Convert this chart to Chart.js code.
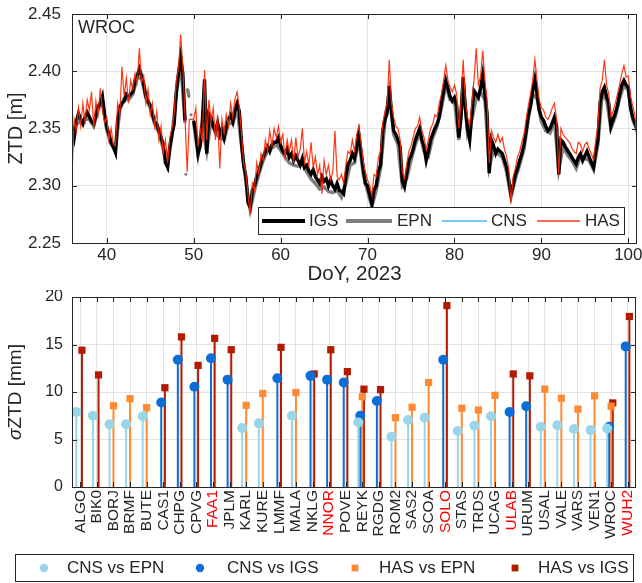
<!DOCTYPE html>
<html>
<head>
<meta charset="utf-8">
<script src="https://cdn.jsdelivr.net/npm/chart.js@4.4.1/dist/chart.umd.min.js"></script>
<style>
  body { margin: 0; background: #fff; }
  canvas { position: absolute; left: 0; }
  #ztdChart { top: 0; }
  #sigmaChart { top: 290px; }
</style>
</head>
<body>
<canvas id="ztdChart" width="642" height="290"></canvas>
<canvas id="sigmaChart" width="642" height="293"></canvas>
<script>
// ---- top panel: ZTD time series at WROC ----
const doy = [
  36, 36.25, 36.5, 36.75, 37, 37.25, 37.5, 37.75, 38, 38.25, 38.5, 38.75, 39, 39.25, 39.5, 39.75,
  40, 40.25, 40.5, 40.75, 41, 41.25, 41.5, 41.75, 42, 42.25, 42.5, 42.75, 43, 43.25, 43.5, 43.75,
  44, 44.25, 44.5, 44.75, 45, 45.25, 45.5, 45.75, 46, 46.25, 46.5, 46.75, 47, 47.25, 47.5, 47.75,
  48, 48.25, 48.5, 48.75, 49, 49.25, 49.5, 49.75, 50, 50.25, 50.5, 50.75, 51, 51.25, 51.5, 51.75,
  52, 52.25, 52.5, 52.75, 53, 53.25, 53.5, 53.75, 54, 54.25, 54.5, 54.75, 55, 55.25, 55.5, 55.75,
  56, 56.25, 56.5, 56.75, 57, 57.25, 57.5, 57.75, 58, 58.25, 58.5, 58.75, 59, 59.25, 59.5, 59.75,
  60, 60.25, 60.5, 60.75, 61, 61.25, 61.5, 61.75, 62, 62.25, 62.5, 62.75, 63, 63.25, 63.5, 63.75,
  64, 64.25, 64.5, 64.75, 65, 65.25, 65.5, 65.75, 66, 66.25, 66.5, 66.75, 67, 67.25, 67.5, 67.75,
  68, 68.25, 68.5, 68.75, 69, 69.25, 69.5, 69.75, 70, 70.25, 70.5, 70.75, 71, 71.25, 71.5, 71.75,
  72, 72.25, 72.5, 72.75, 73, 73.25, 73.5, 73.75, 74, 74.25, 74.5, 74.75, 75, 75.25, 75.5, 75.75,
  76, 76.25, 76.5, 76.75, 77, 77.25, 77.5, 77.75, 78, 78.25, 78.5, 78.75, 79, 79.25, 79.5, 79.75,
  80, 80.25, 80.5, 80.75, 81, 81.25, 81.5, 81.75, 82, 82.25, 82.5, 82.75, 83, 83.25, 83.5, 83.75,
  84, 84.25, 84.5, 84.75, 85, 85.25, 85.5, 85.75, 86, 86.25, 86.5, 86.75, 87, 87.25, 87.5, 87.75,
  88, 88.25, 88.5, 88.75, 89, 89.25, 89.5, 89.75, 90, 90.25, 90.5, 90.75, 91, 91.25, 91.5, 91.75,
  92, 92.25, 92.5, 92.75, 93, 93.25, 93.5, 93.75, 94, 94.25, 94.5, 94.75, 95, 95.25, 95.5, 95.75,
  96, 96.25, 96.5, 96.75, 97, 97.25, 97.5, 97.75, 98, 98.25, 98.5, 98.75, 99, 99.25, 99.5, 99.75,
  100, 100.25, 100.5, 100.75, 101
];

const igs = [
  2.351, 2.342, 2.356, 2.363, 2.358, 2.354, 2.360, 2.364, 2.360, 2.356, 2.354, 2.362, 2.369, 2.372, 2.378, 2.362,
  2.351, 2.345, 2.338, 2.334, 2.329, 2.358, 2.369, 2.372, 2.374, 2.380, 2.378, 2.380, 2.382, 2.392, 2.396, 2.402,
  2.396, 2.389, 2.378, 2.374, 2.370, 2.363, 2.356, 2.354, 2.348, 2.342, 2.336, 2.320, 2.316, 2.334, 2.345, 2.354,
  2.382, 2.398, 2.412, 2.398, 2.357, null, null, null, 2.357, 2.345, 2.328, 2.335, 2.357, 2.393, 2.328, 2.363,
  2.360, 2.352, 2.348, 2.355, 2.345, 2.350, 2.342, 2.352, 2.358, 2.362, 2.356, 2.366, 2.372, 2.365, 2.338, 2.318,
  2.308, 2.285, 2.281, 2.296, 2.300, 2.308, 2.313, 2.320, 2.325, 2.330, 2.334, 2.330, 2.336, 2.338, 2.338, 2.342,
  2.335, 2.330, 2.328, 2.332, 2.325, 2.328, 2.322, 2.326, 2.322, 2.318, 2.324, 2.316, 2.318, 2.313, 2.310, 2.314,
  2.308, 2.305, 2.302, 2.308, 2.304, 2.306, 2.300, 2.305, 2.300, 2.297, 2.302, 2.296, 2.295, 2.293, 2.308, 2.319,
  2.322, 2.328, 2.324, 2.334, 2.345, 2.330, 2.315, 2.302, 2.300, 2.292, 2.284, 2.296, 2.300, 2.313, 2.318, 2.348,
  2.358, 2.363, 2.387, 2.365, 2.348, 2.345, 2.340, 2.334, 2.304, 2.299, 2.310, 2.322, 2.326, 2.332, 2.340, 2.345,
  2.350, 2.340, 2.334, 2.322, 2.330, 2.340, 2.345, 2.350, 2.354, 2.360, 2.372, 2.383, 2.392, 2.385, 2.378, 2.374,
  2.377, 2.370, 2.342, 2.360, 2.395, 2.368, 2.350, 2.340, 2.362, 2.383, 2.380, 2.377, 2.385, 2.397, 2.380, 2.363,
  2.311, 2.340, 2.335, 2.328, 2.332, 2.330, 2.328, 2.322, 2.316, 2.305, 2.293, 2.300, 2.310, 2.315, 2.322, 2.328,
  2.336, 2.348, 2.362, 2.370, 2.383, 2.393, 2.380, 2.366, 2.360, 2.357, 2.352, 2.348, 2.350, 2.355, 2.360, 2.352,
  2.310, 2.340, 2.338, 2.334, 2.331, 2.328, 2.325, 2.322, 2.319, 2.325, 2.328, 2.322, 2.326, 2.330, 2.325, 2.320,
  2.316, 2.330, 2.340, 2.372, 2.382, 2.386, 2.378, 2.372, 2.352, 2.358, 2.363, 2.370, 2.380, 2.388, 2.392, 2.388,
  2.386, 2.368, 2.360, 2.355, 2.350
];

// EPN: half-day samples, with isolated scattered samples around DoY 49 (nulls break the line)
const epnDoy = [
  36, 36.5, 37, 37.5, 38, 38.5, 39, 39.5, 40, 40.5, 41, 41.5, 42, 42.5, 43, 43.5,
  44, 44.5, 45, 45.5, 46, 46.5, 47, 47.5, 48, 48.5, 49, 49.05, 49.1, 49.2, 49.3, 49.45, 49.6, 49.7, 49.85,
  50, 50.5, 51, 51.5, 52, 52.5, 53, 53.5, 54, 54.5, 55, 55.5, 56, 56.5, 57, 57.5,
  58, 58.5, 59, 59.5, 60, 60.5, 61, 61.5, 62, 62.5, 63, 63.5, 64, 64.5, 65, 65.5,
  66, 66.5, 67, 67.5, 68, 68.5, 69, 69.5, 70, 70.5, 71, 71.5, 72, 72.5, 73, 73.5,
  74, 74.5, 75, 75.5, 76, 76.5, 77, 77.5, 78, 78.5, 79, 79.5, 80, 80.5, 81, 81.5,
  82, 82.5, 83, 83.5, 84, 84.5, 85, 85.5, 86, 86.5, 87, 87.5, 88, 88.5, 89, 89.5,
  90, 90.5, 91, 91.5, 92, 92.5, 93, 93.5, 94, 94.5, 95, 95.5, 96, 96.5, 97, 97.5,
  98, 98.5, 99, 99.5, 100, 100.5, 101
];

const epn = [
  2.348, 2.354, 2.356, 2.358, 2.358, 2.352, 2.366, 2.374, 2.349, 2.336, 2.331, 2.366, 2.376, 2.375, 2.380, 2.394,
  2.394, 2.376, 2.368, 2.354, 2.346, 2.332, 2.318, 2.343, 2.380, 2.408, 2.355, null, 2.310, null, 2.384, 2.378, null, 2.362, null,
  2.355, 2.327, 2.352, 2.330, 2.357, 2.346, 2.342, 2.340, 2.355, 2.354, 2.368, 2.335, 2.304, 2.279, 2.296, 2.310,
  2.322, 2.331, 2.333, 2.336, 2.331, 2.325, 2.320, 2.318, 2.317, 2.319, 2.312, 2.306, 2.302, 2.297, 2.299, 2.295,
  2.294, 2.296, 2.290, 2.302, 2.318, 2.320, 2.340, 2.310, 2.295, 2.282, 2.296, 2.315, 2.355, 2.382, 2.345, 2.336,
  2.300, 2.306, 2.322, 2.336, 2.346, 2.330, 2.326, 2.342, 2.352, 2.368, 2.388, 2.375, 2.374, 2.340, 2.390, 2.346,
  2.358, 2.376, 2.382, 2.375, 2.316, 2.332, 2.328, 2.325, 2.312, 2.290, 2.306, 2.318, 2.332, 2.358, 2.380, 2.376,
  2.356, 2.348, 2.346, 2.356, 2.314, 2.334, 2.327, 2.322, 2.315, 2.326, 2.324, 2.322, 2.314, 2.336, 2.380, 2.375,
  2.350, 2.360, 2.376, 2.388, 2.383, 2.358, 2.348
];

// no CNS solution plotted for WROC in this panel (legend entry only)
const cnsDoy = [];
const cns = [];

const has = [
  2.310, 2.358, 2.348, 2.368, 2.352, 2.372, 2.356, 2.375, 2.366, 2.382, 2.350, 2.374, 2.362, 2.385, 2.366, 2.355,
  2.360, 2.340, 2.350, 2.336, 2.335, 2.372, 2.362, 2.404, 2.378, 2.394, 2.372, 2.392, 2.384, 2.398, 2.390, 2.420,
  2.390, 2.396, 2.372, 2.384, 2.362, 2.372, 2.352, 2.365, 2.340, 2.352, 2.328, 2.340, 2.320, 2.342, 2.350, 2.362,
  2.392, 2.402, 2.432, 2.404, 2.360, 2.312, 2.358, 2.358, 2.358, 2.368, 2.334, 2.350, 2.338, 2.401, 2.340, 2.375,
  2.356, 2.368, 2.340, 2.362, 2.315, 2.358, 2.346, 2.362, 2.352, 2.372, 2.360, 2.376, 2.382, 2.368, 2.345, 2.320,
  2.312, 2.292, 2.275, 2.302, 2.296, 2.320, 2.310, 2.328, 2.322, 2.340, 2.330, 2.348, 2.335, 2.350, 2.342, 2.352,
  2.338, 2.345, 2.325, 2.340, 2.330, 2.340, 2.320, 2.342, 2.325, 2.332, 2.350, 2.320, 2.330, 2.318, 2.338, 2.316,
  2.325, 2.310, 2.318, 2.293, 2.322, 2.310, 2.318, 2.305, 2.312, 2.348, 2.308, 2.305, 2.310, 2.302, 2.318, 2.330,
  2.328, 2.340, 2.330, 2.345, 2.352, 2.338, 2.322, 2.312, 2.305, 2.300, 2.292, 2.310, 2.308, 2.325, 2.330, 2.355,
  2.365, 2.372, 2.410, 2.372, 2.360, 2.352, 2.350, 2.340, 2.312, 2.306, 2.318, 2.330, 2.335, 2.342, 2.350, 2.352,
  2.360, 2.348, 2.342, 2.332, 2.340, 2.350, 2.354, 2.362, 2.360, 2.372, 2.380, 2.392, 2.405, 2.392, 2.386, 2.382,
  2.388, 2.380, 2.350, 2.372, 2.410, 2.375, 2.360, 2.352, 2.372, 2.392, 2.420, 2.388, 2.395, 2.418, 2.392, 2.375,
  2.320, 2.348, 2.342, 2.338, 2.345, 2.338, 2.342, 2.332, 2.325, 2.315, 2.285, 2.308, 2.315, 2.325, 2.330, 2.338,
  2.345, 2.358, 2.370, 2.380, 2.392, 2.410, 2.392, 2.375, 2.368, 2.366, 2.360, 2.358, 2.362, 2.368, 2.372, 2.358,
  2.310, 2.350, 2.345, 2.342, 2.340, 2.338, 2.333, 2.330, 2.328, 2.338, 2.336, 2.330, 2.336, 2.338, 2.332, 2.328,
  2.322, 2.340, 2.352, 2.385, 2.392, 2.410, 2.388, 2.380, 2.360, 2.365, 2.372, 2.380, 2.388, 2.398, 2.405, 2.395,
  2.396, 2.378, 2.370, 2.362, 2.338
];

const doyTicks = [40, 50, 60, 70, 80, 90, 100];
const ztdTicks = [2.25, 2.30, 2.35, 2.40, 2.45];

// ---- bottom panel: sigma ZTD per station ----
const stations = ['ALGO', 'BIK0', 'BORJ', 'BRMF', 'BUTE', 'CAS1', 'CHPG', 'CPVG', 'FAA1', 'JPLM',
  'KARL', 'KURE', 'LMMF', 'MALA', 'NKLG', 'NNOR', 'POVE', 'REYK', 'RGDG', 'ROM2', 'SAS2', 'SCOA',
  'SOLO', 'STAS', 'TRDS', 'UCAG', 'ULAB', 'URUM', 'USAL', 'VALE', 'VARS', 'VEN1', 'WROC', 'WUH2'];
const redStations = ['FAA1', 'NNOR', 'SOLO', 'ULAB', 'WUH2'];

const cnsVsEpn = [7.9, 7.5, 6.6, 6.6, 7.45, null, null, null, null, null,
  6.2, 6.7, null, 7.5, null, null, null, 6.8, null, 5.3, 7.05, 7.3,
  null, 5.9, 6.45, 7.45, null, null, 6.35, 6.5, 6.1, 6.0, 6.15, null];
const cnsVsIgs = [null, null, null, null, null, 8.9, 13.4, 10.55, 13.55, 11.3,
  null, null, 11.45, null, 11.7, 11.3, 11.0, 7.5, 9.05, null, null, null,
  13.4, null, null, null, 7.9, 8.5, null, null, null, null, 6.35, 14.8];
const hasVsEpn = [null, null, 8.55, 9.3, 8.35, null, null, null, null, null,
  8.6, 9.85, null, 9.95, null, null, null, 9.5, null, 7.3, 8.4, 11.0,
  null, 8.3, 8.1, 9.65, null, null, 10.3, 9.35, 8.2, 9.6, 8.5, null];
const hasVsIgs = [14.4, 11.8, null, null, null, 10.45, 15.8, 12.8, 15.65, 14.45,
  null, null, 14.7, null, 11.9, 14.45, 12.15, 10.3, 10.25, null, null, null,
  19.1, null, null, null, 11.9, 11.7, null, null, null, null, 8.85, 17.95];

const sigmaTicks = [0, 5, 10, 15, 20];

// ---- helpers / styling ----
const FONT = '"Liberation Sans", Arial, sans-serif';
const AX = '#262626';
const GRID = '#e3e3e3';
Chart.defaults.font.family = FONT;
Chart.defaults.color = AX;

function toXY(xs, ys) {
  return xs.map((x, i) => ({ x: x, y: ys[i] }));
}

function stationPoints(values, shift) {
  const pts = [];
  values.forEach((v, i) => { if (v !== null) pts.push({ x: i + 1 + shift, y: v }); });
  return pts;
}

// axes box + inward tick marks, MATLAB style
const framePlugin = {
  id: 'frame',
  afterDatasetsDraw(chart) {
    const { ctx, chartArea: a, scales } = chart;
    ctx.save();
    ctx.strokeStyle = AX;
    ctx.lineWidth = 1;
    ctx.beginPath();
    scales.x.ticks.forEach(t => {
      const px = Math.round(scales.x.getPixelForValue(t.value)) + 0.5;
      ctx.moveTo(px, a.bottom); ctx.lineTo(px, a.bottom - 5);
      ctx.moveTo(px, a.top); ctx.lineTo(px, a.top + 5);
    });
    scales.y.ticks.forEach(t => {
      const py = Math.round(scales.y.getPixelForValue(t.value)) + 0.5;
      ctx.moveTo(a.left, py); ctx.lineTo(a.left + 5, py);
      ctx.moveTo(a.right, py); ctx.lineTo(a.right - 5, py);
    });
    ctx.stroke();
    ctx.strokeRect(Math.round(a.left) + 0.5, Math.round(a.top) + 0.5,
      Math.round(a.right - a.left) - 1, Math.round(a.bottom - a.top));
    ctx.restore();
  }
};

// boxed legend drawn inside the figure at a fixed place
const boxLegendPlugin = {
  id: 'boxLegend',
  afterDraw(chart, args, opts) {
    const { ctx } = chart;
    const b = opts.box;
    ctx.save();
    ctx.fillStyle = '#fff';
    ctx.fillRect(b.x, b.y, b.w, b.h);
    ctx.strokeStyle = AX;
    ctx.lineWidth = 1;
    ctx.strokeRect(b.x + 0.5, b.y + 0.5, b.w, b.h);
    const cy = b.y + b.h / 2 + 0.5;
    opts.items.forEach(it => {
      const ds = chart.data.datasets[it.index];
      if (it.kind === 'line') {
        ctx.strokeStyle = ds.borderColor;
        ctx.lineWidth = ds.legendWidth || ds.borderWidth;
        ctx.beginPath();
        ctx.moveTo(it.mark, cy);
        ctx.lineTo(it.mark + it.len, cy);
        ctx.stroke();
      } else {
        ctx.fillStyle = ds.backgroundColor;
        ctx.beginPath();
        if (ds.pointStyle === 'circle') {
          ctx.arc(it.mark, cy, 4.2, 0, Math.PI * 2);
        } else {
          ctx.rect(it.mark - 3.4, cy - 3.4, 6.8, 6.8);
        }
        ctx.fill();
      }
      ctx.fillStyle = AX;
      ctx.font = opts.font;
      ctx.textBaseline = 'middle';
      ctx.textAlign = 'left';
      ctx.fillText(ds.label, it.text, cy);
    });
    ctx.restore();
  }
};

// station name label + y label with italic sigma
const textPlugin = {
  id: 'texts',
  afterDraw(chart, args, opts) {
    const { ctx, chartArea: a } = chart;
    ctx.save();
    ctx.fillStyle = AX;
    if (opts.corner) {
      ctx.font = '18px ' + FONT;
      ctx.textAlign = 'left';
      ctx.textBaseline = 'alphabetic';
      ctx.fillText(opts.corner, a.left + 6, a.top + 19);
    }
    if (opts.sigmaTitle) {
      const fItal = 'italic 19px ' + FONT;
      const fReg = '19px ' + FONT;
      ctx.font = fItal;
      const w1 = ctx.measureText('σ').width;
      ctx.font = fReg;
      const w2 = ctx.measureText(opts.sigmaTitle).width;
      ctx.translate(16, (a.top + a.bottom) / 2);
      ctx.rotate(-Math.PI / 2);
      ctx.textBaseline = 'middle';
      ctx.textAlign = 'left';
      const x0 = -(w1 + w2) / 2;
      ctx.font = fItal;
      ctx.fillText('σ', x0, 0);
      ctx.font = fReg;
      ctx.fillText(opts.sigmaTitle, x0 + w1, 0);
    }
    ctx.restore();
  }
};

// stems from zero up to each marker, drawn just before that dataset's markers
const stemPlugin = {
  id: 'stems',
  beforeDatasetDraw(chart, args) {
    const ds = chart.data.datasets[args.index];
    if (!ds.stemColor) return;
    const { ctx } = chart;
    const y0 = chart.scales.y.getPixelForValue(0);
    ctx.save();
    ctx.strokeStyle = ds.stemColor;
    ctx.lineWidth = 2;
    ctx.beginPath();
    args.meta.data.forEach(p => {
      ctx.moveTo(p.x, y0);
      ctx.lineTo(p.x, p.y);
    });
    ctx.stroke();
    ctx.restore();
  }
};

const topTickFont = { size: 17, family: FONT };

// ---- top chart ----
new Chart(document.getElementById('ztdChart'), {
  type: 'line',
  data: {
    datasets: [
      { label: 'IGS', data: toXY(doy, igs), borderColor: '#000000', borderWidth: 3.4, legendWidth: 4, order: 3 },
      { label: 'EPN', data: toXY(epnDoy, epn), borderColor: '#7f7f7f', backgroundColor: '#7f7f7f',
        borderWidth: 3.4, legendWidth: 4, pointBorderWidth: 0,
        // only the lone samples in the DoY 49 gap show up as dots
        pointRadius: c => (c.raw && c.raw.x > 49.02 && c.raw.x < 49.95) ? 1.5 : 0,
        order: 4 },
      { label: 'CNS', data: toXY(cnsDoy, cns), borderColor: '#4db3f5', borderWidth: 1.3, order: 2 },
      { label: 'HAS', data: toXY(doy, has), borderColor: 'rgba(255,38,0,0.92)', borderWidth: 1.2, legendWidth: 1.3, order: 1 }
    ]
  },
  options: {
    responsive: false,
    animation: false,
    devicePixelRatio: 1,
    spanGaps: false,
    layout: { padding: { top: 14, right: 5, left: 0, bottom: 0 } },
    elements: { point: { radius: 0 }, line: { tension: 0 } },
    plugins: {
      legend: { display: false },
      tooltip: { enabled: false },
      boxLegend: {
        box: { x: 258, y: 207, w: 366, h: 27 },
        font: '17px ' + FONT,
        items: [
          { index: 0, kind: 'line', mark: 262, len: 43, text: 309 },
          { index: 1, kind: 'line', mark: 346, len: 46, text: 397 },
          { index: 2, kind: 'line', mark: 442, len: 45, text: 491 },
          { index: 3, kind: 'line', mark: 537, len: 43, text: 585 }
        ]
      },
      texts: { corner: 'WROC' }
    },
    scales: {
      x: {
        type: 'linear', min: 36, max: 101,
        afterBuildTicks: s => { s.ticks = doyTicks.map(v => ({ value: v })); },
        afterFit: s => { s.height = 47; s.paddingLeft = 0; s.paddingRight = 0; },
        ticks: { font: topTickFont, color: AX, padding: 2, callback: v => String(v) },
        grid: { color: GRID, drawTicks: false },
        border: { display: false },
        title: { display: true, text: 'DoY, 2023', color: AX, font: { size: 20.5, family: FONT }, padding: { top: 0, bottom: 3 } }
      },
      y: {
        min: 2.25, max: 2.45,
        afterBuildTicks: s => { s.ticks = ztdTicks.map(v => ({ value: v })); },
        afterFit: s => { s.width = 72; s.paddingTop = 0; s.paddingBottom = 0; },
        ticks: { font: topTickFont, color: AX, padding: 11, callback: v => v.toFixed(2) },
        grid: { color: GRID, drawTicks: false },
        border: { display: false },
        title: { display: true, text: 'ZTD [m]', color: AX, font: { size: 20, family: FONT }, padding: { top: 4, bottom: 4 } }
      }
    }
  },
  plugins: [framePlugin, boxLegendPlugin, textPlugin]
});

// ---- bottom chart ----
const seriesDefs = [
  { label: 'CNS vs EPN', values: cnsVsEpn, color: '#9ad6ea', style: 'circle', shift: -0.24, order: 1 },
  { label: 'CNS vs IGS', values: cnsVsIgs, color: '#0a6ed6', style: 'circle', shift: -0.12, order: 2 },
  { label: 'HAS vs EPN', values: hasVsEpn, color: '#ff8a33', style: 'rect', shift: 0.0, order: 3 },
  { label: 'HAS vs IGS', values: hasVsIgs, color: '#b31b00', style: 'rect', shift: 0.1, order: 4 }
];

new Chart(document.getElementById('sigmaChart'), {
  type: 'scatter',
  data: {
    datasets: seriesDefs.map(s => ({
      label: s.label,
      data: stationPoints(s.values, s.shift),
      pointStyle: s.style,
      pointRadius: s.style === 'circle' ? 5 : 5.1,
      backgroundColor: s.color,
      borderColor: s.color,
      borderWidth: 0,
      stemColor: s.color,
      order: s.order
    }))
  },
  options: {
    responsive: false,
    animation: false,
    devicePixelRatio: 1,
    layout: { padding: { top: 7, right: 6, left: 0, bottom: 0 } },
    plugins: {
      legend: { display: false },
      tooltip: { enabled: false },
      boxLegend: {
        box: { x: 15, y: 264, w: 618, h: 27 },
        font: '17px ' + FONT,
        items: [
          { index: 0, kind: 'mark', mark: 44, text: 67 },
          { index: 1, kind: 'mark', mark: 200, text: 227 },
          { index: 2, kind: 'mark', mark: 355, text: 379 },
          { index: 3, kind: 'mark', mark: 515, text: 538 }
        ]
      },
      texts: { sigmaTitle: 'ZTD [mm]' }
    },
    scales: {
      x: {
        type: 'linear', min: 0.5, max: 34.5,
        afterBuildTicks: s => { s.ticks = stations.map((n, i) => ({ value: i + 1 })); },
        afterFit: s => { s.height = 96; s.paddingLeft = 0; s.paddingRight = 0; },
        ticks: {
          font: { size: 15.5, family: FONT }, padding: 3, autoSkip: false, minRotation: 90, maxRotation: 90,
          callback: v => stations[v - 1],
          color: c => redStations.includes(stations[c.index]) ? '#ff0000' : AX
        },
        grid: { color: GRID, drawTicks: false },
        border: { display: false }
      },
      y: {
        min: 0, max: 20,
        afterBuildTicks: s => { s.ticks = sigmaTicks.map(v => ({ value: v })); },
        afterFit: s => { s.width = 72; s.paddingTop = 0; s.paddingBottom = 0; },
        ticks: { font: { size: 16, family: FONT }, color: AX, padding: 9 },
        grid: { color: GRID, drawTicks: false },
        border: { display: false }
      }
    }
  },
  plugins: [stemPlugin, framePlugin, boxLegendPlugin, textPlugin]
});
</script>
</body>
</html>
